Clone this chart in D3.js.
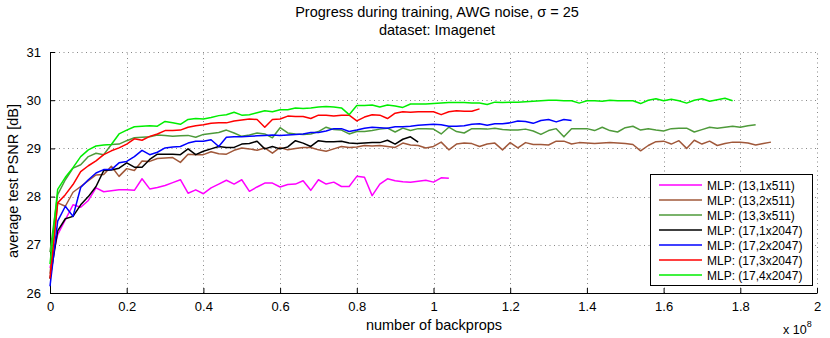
<!DOCTYPE html>
<html>
<head>
<meta charset="utf-8">
<script src="https://cdn.jsdelivr.net/npm/d3@7"></script>
<style>
  body { margin: 0; background: #fff; }
  svg { font-family: "Liberation Sans", Arial, Helvetica, sans-serif; }
</style>
</head>
<body>
<svg id="chart" width="830" height="338"></svg>
<script>
// ---------- DATA ----------
const xStep = 0.02; // units of 1e8 backprops
const seriesNames = ["MLP: (13,1x511)", "MLP: (13,2x511)", "MLP: (13,3x511)", "MLP: (17,1x2047)", "MLP: (17,2x2047)", "MLP: (17,3x2047)", "MLP: (17,4x2047)"];
const seriesColors = ["#ff00ff", "#a0583a", "#4e9a3a", "#000000", "#0000ff", "#ff0000", "#00ee00"];

const pink = [26.52, 27.21, 27.52, 27.83, 27.78, 27.92, 28.18, 28.10, 28.12, 28.14, 28.14, 28.13, 28.37, 28.16, 28.19, 28.23, 28.29, 28.35, 28.07, 28.14,
  28.06, 28.18, 28.26, 28.34, 28.26, 28.35, 28.11, 28.20, 28.28, 28.28, 28.20, 28.25, 28.26, 28.33, 28.13, 28.35, 28.26, 28.30, 28.21, 28.21,
  28.42, 28.40, 28.02, 28.26, 28.37, 28.33, 28.31, 28.30, 28.32, 28.34, 28.30, 28.39, 28.38];

const brown = [26.40, 27.87, 27.80, 28.09, 28.21, 28.33, 28.45, 28.46, 28.63, 28.42, 28.58, 28.54, 28.74, 28.73, 28.79, 28.80, 28.81, 28.71, 28.88, 28.87,
  28.87, 28.93, 28.89, 28.88, 28.96, 29.01, 28.99, 28.96, 29.01, 28.90, 29.02, 28.97, 29.00, 29.02, 29.02, 28.97, 28.94, 28.99, 29.04, 29.02,
  29.03, 29.06, 29.05, 29.06, 29.04, 29.02, 29.11, 29.07, 29.06, 29.01, 29.04, 29.13, 28.97, 29.09, 29.11, 29.10, 29.04, 29.09, 29.11,
  28.97, 29.12, 29.01, 29.12, 29.08, 29.08, 29.07, 29.15, 29.15, 29.09, 29.12, 29.11, 29.10, 29.11, 29.12, 29.11, 29.10, 29.08, 28.95,
  29.06, 29.14, 29.15, 29.09, 29.16, 29.00, 29.17, 29.09, 29.15, 29.06, 29.10, 29.13, 29.13, 29.11, 29.07, 29.10, 29.13];

const dkgreen = [26.85, 28.04, 28.35, 28.59, 28.66, 28.83, 28.90, 28.87, 29.08, 29.09, 29.16, 29.22, 29.23, 29.24, 29.28, 29.27, 29.25, 29.26, 29.27, 29.23,
  29.29, 29.31, 29.33, 29.38, 29.32, 29.25, 29.28, 29.32, 29.30, 29.22, 29.43, 29.32, 29.30, 29.29, 29.30, 29.35, 29.44, 29.39, 29.38, 29.30,
  29.35, 29.35, 29.37, 29.40, 29.42, 29.34, 29.42, 29.37, 29.41, 29.41, 29.40, 29.30, 29.44, 29.35, 29.32, 29.41, 29.41, 29.40, 29.42,
  29.39, 29.38, 29.38, 29.40, 29.36, 29.29, 29.37, 29.41, 29.24, 29.41, 29.41, 29.41, 29.37, 29.44, 29.37, 29.34, 29.43, 29.46, 29.38,
  29.41, 29.38, 29.36, 29.41, 29.42, 29.42, 29.34, 29.39, 29.44, 29.42, 29.44, 29.46, 29.44, 29.47, 29.49];

const black = [26.30, 27.29, 27.54, 27.59, 27.83, 28.00, 28.21, 28.54, 28.55, 28.59, 28.70, 28.61, 28.61, 28.77, 28.88, 28.88, 28.88, 28.87, 28.99, 28.87,
  28.94, 28.99, 29.04, 29.02, 29.02, 29.09, 29.10, 29.15, 28.99, 29.04, 28.99, 29.03, 29.16, 29.11, 29.04, 29.16, 29.14, 29.14, 29.15, 29.11,
  29.10, 29.11, 29.12, 29.12, 29.17, 29.09, 29.19, 29.24, 29.13];

const blue = [26.14, 27.49, 27.80, 27.59, 28.19, 28.35, 28.49, 28.56, 28.56, 28.70, 28.73, 28.83, 28.96, 28.87, 28.92, 29.01, 29.03, 29.04, 29.11, 29.15,
  29.15, 29.18, 29.04, 29.23, 29.24, 29.24, 29.25, 29.26, 29.27, 29.28, 29.27, 29.28, 29.29, 29.30, 29.33, 29.33, 29.36, 29.41, 29.41, 29.35,
  29.38, 29.42, 29.44, 29.43, 29.42, 29.45, 29.45, 29.46, 29.48, 29.49, 29.50, 29.49, 29.46, 29.46, 29.47, 29.50, 29.51, 29.48, 29.51,
  29.51, 29.53, 29.57, 29.56, 29.52, 29.58, 29.60, 29.55, 29.60, 29.58];

const red = [26.30, 27.87, 28.04, 28.25, 28.52, 28.64, 28.74, 28.87, 28.95, 29.01, 29.09, 29.20, 29.17, 29.25, 29.30, 29.37, 29.37, 29.38, 29.44, 29.47,
  29.49, 29.52, 29.53, 29.53, 29.57, 29.59, 29.61, 29.60, 29.44, 29.60, 29.61, 29.67, 29.66, 29.66, 29.62, 29.69, 29.69, 29.67, 29.69, 29.69,
  29.57, 29.65, 29.70, 29.69, 29.62, 29.73, 29.76, 29.75, 29.76, 29.76, 29.76, 29.70, 29.76, 29.78, 29.77, 29.77, 29.82];

const green = [26.60, 28.15, 28.40, 28.60, 28.83, 28.97, 29.05, 29.07, 29.08, 29.30, 29.38, 29.45, 29.46, 29.47, 29.46, 29.56, 29.53, 29.50, 29.60, 29.62,
  29.61, 29.64, 29.68, 29.70, 29.75, 29.69, 29.70, 29.74, 29.78, 29.76, 29.80, 29.80, 29.84, 29.83, 29.84, 29.86, 29.87, 29.86, 29.84, 29.70,
  29.89, 29.89, 29.90, 29.86, 29.90, 29.88, 29.85, 29.92, 29.92, 29.92, 29.93, 29.94, 29.95, 29.95, 29.95, 29.94, 29.94, 29.91, 29.96,
  29.95, 29.96, 29.96, 29.97, 29.98, 29.99, 30.00, 30.00, 29.99, 29.99, 29.94, 29.99, 29.99, 29.98, 30.00, 29.99, 29.99, 29.99, 29.93,
  30.00, 30.03, 29.99, 30.02, 29.99, 29.94, 30.00, 30.03, 29.98, 30.01, 30.04, 29.99];

const xTicks = [0, 0.2, 0.4, 0.6, 0.8, 1, 1.2, 1.4, 1.6, 1.8, 2];
const yTicks = [26, 27, 28, 29, 30, 31];
const titleLines = ["Progress during training, AWG noise, \u03c3 = 25", "dataset: Imagenet"];
const xLabel = "number of backprops";
const yLabel = "average test PSNR [dB]";

const allSeries = [pink, brown, dkgreen, black, blue, red, green];

// ---------- CHART ----------
const svg = d3.select("#chart");
const m = { left: 50, right: 817, top: 52, bottom: 293 };
const x = d3.scaleLinear().domain([0, 2]).range([m.left, m.right]);
const y = d3.scaleLinear().domain([26, 31]).range([m.bottom, m.top]);

// grid (dotted)
const grid = svg.append("g").attr("stroke", "#888").attr("stroke-width", 1).attr("stroke-dasharray", "1,3.5");
grid.selectAll(".gx").data(xTicks.slice(1)).join("line")
  .attr("x1", d => Math.round(x(d)) + 0.5).attr("x2", d => Math.round(x(d)) + 0.5)
  .attr("y1", m.bottom).attr("y2", m.top);
grid.selectAll(".gy").data(yTicks.slice(1)).join("line")
  .attr("y1", d => Math.round(y(d)) + 0.5).attr("y2", d => Math.round(y(d)) + 0.5)
  .attr("x1", m.left).attr("x2", m.right);

// axes
const xAxis = d3.axisBottom(x).tickValues(xTicks).tickSizeInner(-5).tickSizeOuter(0).tickPadding(9)
  .tickFormat(d => String(d));
const yAxis = d3.axisLeft(y).tickValues(yTicks).tickSizeInner(-5).tickSizeOuter(0).tickPadding(9)
  .tickFormat(d => String(d));

const gx = svg.append("g").attr("transform", `translate(0,${m.bottom})`).call(xAxis);
const gy = svg.append("g").attr("transform", `translate(${m.left},0)`).call(yAxis);
[gx, gy].forEach(g => {
  g.selectAll("text").attr("font-size", 13).attr("fill", "#000").attr("font-family", "Liberation Sans, Arial, sans-serif");
  g.selectAll("line").attr("stroke", "#000");
  g.select(".domain").attr("stroke", "#000");
});

// lines
const line = d3.line().x((d, i) => x(i * xStep)).y(d => y(d));
svg.append("g").selectAll("path").data(allSeries).join("path")
  .attr("d", d => line(d))
  .attr("fill", "none")
  .attr("stroke", (d, i) => seriesColors[i])
  .attr("stroke-width", 1.5)
  .attr("stroke-linejoin", "round");

// titles
svg.append("g").selectAll("text").data(titleLines).join("text")
  .attr("x", 437).attr("y", (d, i) => 17 + i * 18)
  .attr("text-anchor", "middle").attr("font-size", 14.5).attr("fill", "#000")
  .text(d => d);

svg.append("text").attr("x", 434).attr("y", 330).attr("text-anchor", "middle")
  .attr("font-size", 14.5).text(xLabel);
svg.append("text").attr("transform", "translate(18,181) rotate(-90)").attr("text-anchor", "middle")
  .attr("font-size", 14.5).text(yLabel);

// x 10^8
const mult = svg.append("text").attr("x", 783).attr("y", 334).attr("font-size", 12.5);
mult.append("tspan").text("x 10");
mult.append("tspan").attr("dy", -7).attr("font-size", 9).text("8");

// legend
const lg = svg.append("g");
lg.append("rect").attr("x", 650.5).attr("y", 174.5).attr("width", 162).attr("height", 111)
  .attr("fill", "#fff").attr("stroke", "#000").attr("stroke-width", 1);
const items = lg.selectAll(".li").data(seriesNames).join("g")
  .attr("transform", (d, i) => `translate(0,${185 + i * 15})`);
items.append("line").attr("x1", 659).attr("x2", 702).attr("y1", 0).attr("y2", 0)
  .attr("stroke", (d, i) => seriesColors[i]).attr("stroke-width", 1.5);
items.append("text").attr("x", 707).attr("y", 4.5).attr("font-size", 12).text(d => d);
</script>
</body>
</html>
